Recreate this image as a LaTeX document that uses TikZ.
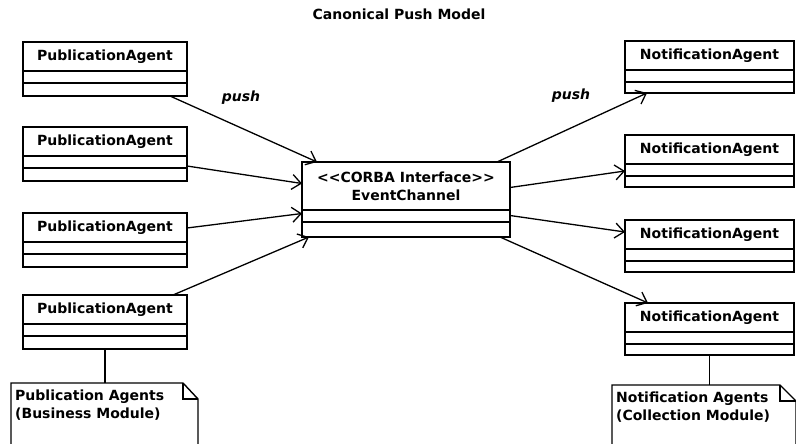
\documentclass[tikz,border=0pt]{standalone}
\usepackage{fontspec}
\setmainfont{DejaVu Sans}
\usetikzlibrary{calc,arrows.meta}

\begin{document}
\begin{tikzpicture}[x=1pt, y=-1pt, font=\bfseries\fontsize{14}{18}\selectfont]
\tikzset{
  cls/.style n args={4}{draw, line width=1.4pt, anchor=north west, outer sep=0pt,
    minimum width=#1, minimum height=#2,
    path picture={
      \draw[line width=1.4pt] ([yshift=-#3pt]path picture bounding box.north west)
        -- ([yshift=-#3pt]path picture bounding box.north east);
      \draw[line width=1.4pt] ([yshift=-#3pt-12pt]path picture bounding box.north west)
        -- ([yshift=-#3pt-12pt]path picture bounding box.north east);},
    label={[anchor=center, align=center, yshift=-#3pt/2]north:#4}},
  push/.style={-{Straight Barb[length=9pt, width=15pt]}, line width=1.3pt},
  link/.style={line width=1.4pt},
  note/.style={line width=1.4pt},
  notetxt/.style={anchor=north west, align=left, inner sep=2pt},
  pushlbl/.style={font=\bfseries\itshape\fontsize{14}{18}\selectfont}}
\useasboundingbox (0,0) rectangle (796,444);
\clip (0,0) rectangle (796,444);

\node (title) at (399,14) {Canonical Push Model};

% ---------------- publishers (left) ----------------
\foreach \i/\y in {1/42,2/127,3/213,4/295}
  \node[cls={164}{54}{29}{PublicationAgent}] (pa\i) at (23,\y) {};

% ---------------- event channel ----------------
\node[cls={208}{75}{48}{<{}<CORBA Interface>{}>\\EventChannel}] (ec) at (302,162) {};

% ---------------- consumers (right) ----------------
\foreach \i/\y in {1/41,2/135,3/220,4/303}
  \node[cls={169}{52}{29}{NotificationAgent}] (na\i) at (625,\y) {};

% ---------------- push connections ----------------
\draw[push] ($(pa1.south east)+(-17,0)$) -- ($(ec.north west)+(15,0)$);
\draw[push] ($(pa2.east)+(0,12)$) -- ($(ec.west)+(0,-16)$);
\draw[push] ($(pa3.east)+(0,-12)$) -- ($(ec.west)+(0,14)$);
\draw[push] ($(pa4.north east)+(-14,0)$) -- ($(ec.south west)+(7,0)$);

\draw[push] ($(ec.north east)+(-13,0)$) -- ($(na1.south west)+(22,0)$);
\draw[push] ($(ec.east)+(0,-12)$) -- ($(na2.west)+(0,10)$);
\draw[push] ($(ec.east)+(0,16)$) -- ($(na3.west)+(0,-14)$);
\draw[push] ($(ec.south east)+(-10,0)$) -- ($(na4.north west)+(23,0)$);

\node[pushlbl] (pushl) at (241,98) {push};
\node[pushlbl] (pushr) at (571,96) {push};

% ---------------- notes ----------------
\draw[note] (11,460) -- (11,383) -- (183,383) -- (198,399) -- (198,460);
\draw[note] (183,383) -- (183,399) -- (198,399);
\node[notetxt] (pnote) at (13,388) {Publication Agents\\(Business Module)};
\coordinate (pnotetop) at (105,383);
\draw[link] (pa4.south) -- (pnotetop);

\draw[note] (612,460) -- (612,385) -- (780,385) -- (796,401) -- (796,460);
\draw[note] (780,385) -- (780,401) -- (796,401);
\node[notetxt] (nnote) at (614,390) {Notification Agents\\(Collection Module)};
\coordinate (nnotetop) at ($(na4.south)+(0,30)$);
\draw[link] (na4.south) -- (nnotetop);
\end{tikzpicture}
\end{document}
